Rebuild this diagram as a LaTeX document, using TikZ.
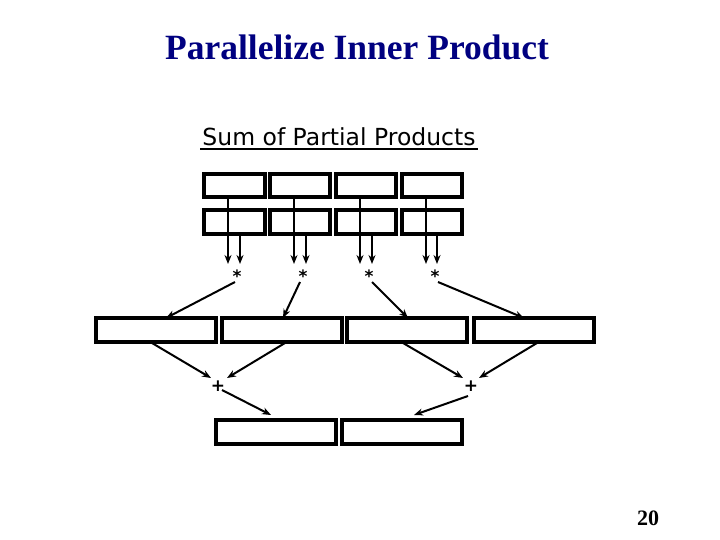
\documentclass[tikz,border=0pt]{standalone}
\usepackage{fontspec}
\setmainfont{Liberation Serif}
\newfontfamily\comicish{DejaVu Sans}
\usetikzlibrary{arrows.meta}
\definecolor{titleblue}{RGB}{0,0,128}
\begin{document}
\begin{tikzpicture}[x=1pt,y=-1pt,
  cell/.style={draw=black,line width=3.2pt,inner sep=0pt,outer sep=0pt,anchor=north west},
  arr/.style={line width=2pt,-{Stealth[length=9pt,width=7pt]}},
  op/.style={inner sep=0pt,font=\comicish\bfseries\fontsize{17}{17}\selectfont}]
\useasboundingbox[fill=white] (0,0) rectangle (720,540);
\node[font=\bfseries\fontsize{35.5}{38}\selectfont,text=titleblue] (title) at (357,47) {Parallelize Inner Product};
\node[font=\comicish\fontsize{23.5}{24}\selectfont,inner sep=0pt] (sub) at (339,137) {Sum of Partial Products};
\draw[line width=1.6pt] (200,149) -- (478,149);
% top rows
\foreach \i/\x/\w in {1/204/61,2/270/60,3/336/60,4/402/60}{
  \node[cell,minimum width=\w pt,minimum height=23pt] (a\i) at (\x,174) {};
  \node[cell,minimum width=\w pt,minimum height=24pt] (b\i) at (\x,210) {};
}
% stars
\foreach \i/\x in {1/237,2/303,3/369,4/435}{
  \node[op] (s\i) at (\x,276) {*};
}
\foreach \i/\xa/\xb in {1/228/240,2/294/306,3/360/372,4/426/437}{
  \coordinate (ta\i) at (\xa,198);
  \coordinate (tb\i) at (\xb,235);
  \coordinate (ea\i) at (\xa,264);
  \coordinate (eb\i) at (\xb,264);
  \draw[arr] (ta\i) -- (ea\i);
  \draw[arr] (tb\i) -- (eb\i);
}
% middle boxes
\foreach \i/\x in {1/96,2/222,3/347,4/474}{
  \node[cell,minimum width=120pt,minimum height=24pt] (m\i) at (\x,318) {};
}
\coordinate (ms1) at (235,282); \coordinate (mt1) at (166,318);
\coordinate (ms2) at (300,282); \coordinate (mt2) at (283,318);
\coordinate (ms3) at (372,282); \coordinate (mt3) at (408,318);
\coordinate (ms4) at (438,282); \coordinate (mt4) at (524,318);
\foreach \i in {1,...,4}{\draw[arr] (ms\i) -- (mt\i);}
% plus signs
\node[op] (p1) at (218,386) {+};
\node[op] (p2) at (471,386) {+};
\coordinate (mb1) at (152,343); \coordinate (pt1) at (211,378);
\coordinate (mb2) at (285,343); \coordinate (pt2) at (227,378);
\coordinate (mb3) at (403,343); \coordinate (pt3) at (463,378);
\coordinate (mb4) at (537,343); \coordinate (pt4) at (479,378);
\foreach \i in {1,...,4}{\draw[arr] (mb\i) -- (pt\i);}
% bottom boxes
\node[cell,minimum width=120pt,minimum height=24pt] (r1) at (216,420) {};
\node[cell,minimum width=120pt,minimum height=24pt] (r2) at (342,420) {};
\coordinate (ps1) at (222,390); \coordinate (rt1) at (271,415);
\coordinate (ps2) at (468,396); \coordinate (rt2) at (414,415);
\draw[arr] (ps1) -- (rt1);
\draw[arr] (ps2) -- (rt2);
\node[font=\bfseries\fontsize{22}{22}\selectfont] (pg) at (648,518) {20};
\end{tikzpicture}
\end{document}
